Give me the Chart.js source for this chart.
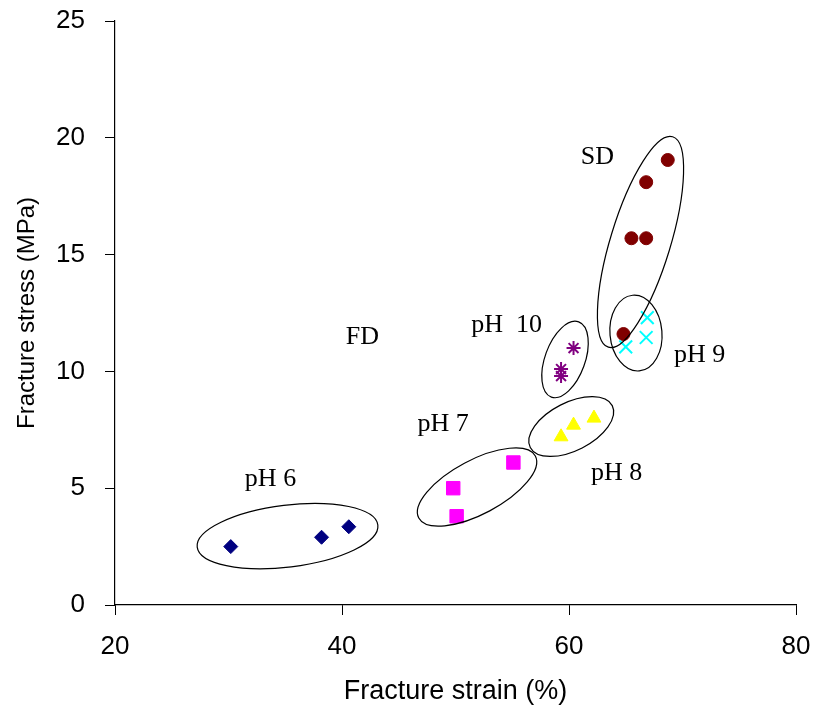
<!DOCTYPE html>
<html>
<head>
<meta charset="utf-8">
<script src="https://cdn.jsdelivr.net/npm/chart.js@4/dist/chart.umd.min.js"></script>
<style>
  html, body { margin: 0; padding: 0; background: #fff; }
  #wrap { width: 818px; height: 711px; }
</style>
</head>
<body>
<div id="wrap"><canvas id="c" width="818" height="711"></canvas></div>
<script>
// Fracture strain (%) and fracture stress (MPa) per treatment group
const ph6Strain = [30.2, 38.2, 40.6];
const ph6Stress = [2.5, 2.9, 3.35];
const ph7Strain = [49.8, 50.1, 55.1];
const ph7Stress = [5.0, 3.8, 6.1];
const ph8Strain = [59.3, 60.4, 62.2];
const ph8Stress = [7.2, 7.7, 8.0];
const ph9Strain = [65.0, 66.8, 66.9];
const ph9Stress = [11.05, 11.45, 12.3];
const ph10Strain = [59.3, 59.3, 60.4];
const ph10Stress = [9.8, 10.1, 11.0];
const sdStrain = [64.8, 65.5, 66.8, 66.8, 68.7];
const sdStress = [11.6, 15.7, 15.7, 18.1, 19.05];

const xTicks = [20, 40, 60, 80];
const yTicks = [0, 5, 10, 15, 20, 25];

// Group names written on the plot, anchored in data units
const groupNames = ['pH 6', 'pH 7', 'pH 8', 'pH 9', 'pH  10', 'SD', 'FD'];
const nameStrain = [33.7, 48.9, 64.2, 71.5, 54.5, 62.5, 41.8];
const nameStress = [5.4, 7.75, 5.65, 10.7, 12.0, 19.15, 11.45];

// Outline ellipses around each group: centre in data units, semi-axes in px, tilt in degrees
const outlines = [
  { cx: 35.2, cy: 2.95, a: 91, b: 31, tilt: -7 },
  { cx: 51.9, cy: 5.05, a: 66, b: 27, tilt: -28 },
  { cx: 60.2, cy: 7.64, a: 46, b: 24, tilt: -27 },
  { cx: 65.9, cy: 11.64, a: 38, b: 26, tilt: -95 },
  { cx: 59.65, cy: 10.51, a: 40, b: 20, tilt: -70 },
  { cx: 66.3, cy: 15.54, a: 110, b: 30, tilt: -73 }
];

const pairs = (xs, ys) => xs.map((x, i) => ({ x: x, y: ys[i] }));

const annotate = {
  id: 'groupAnnotations',
  afterDatasetsDraw(chart) {
    const ctx = chart.ctx;
    const xs = chart.scales.x, ys = chart.scales.y;
    ctx.save();
    ctx.strokeStyle = '#000';
    ctx.lineWidth = 1.2;
    outlines.forEach(o => {
      ctx.beginPath();
      ctx.ellipse(xs.getPixelForValue(o.cx), ys.getPixelForValue(o.cy), o.a, o.b, o.tilt * Math.PI / 180, 0, Math.PI * 2);
      ctx.stroke();
    });
    ctx.fillStyle = '#000';
    ctx.font = '26px "Liberation Serif", "DejaVu Serif", serif';
    ctx.textAlign = 'center';
    ctx.textBaseline = 'middle';
    groupNames.forEach((t, i) => {
      ctx.fillText(t, xs.getPixelForValue(nameStrain[i]), ys.getPixelForValue(nameStress[i]));
    });
    ctx.restore();
  }
};

const mk = (label, data, color, style, radius, bw) => ({
  label: label,
  data: data,
  showLine: false,
  pointStyle: style,
  pointRadius: radius,
  pointHoverRadius: radius,
  pointBackgroundColor: color,
  pointBorderColor: color,
  pointBorderWidth: bw,
  backgroundColor: color,
  borderColor: color
});

const noEdgePadding = s => { s.paddingLeft = 0; s.paddingRight = 0; s.paddingTop = 0; s.paddingBottom = 0; };

new Chart(document.getElementById('c'), {
  type: 'scatter',
  data: {
    datasets: [
      mk('pH 6', pairs(ph6Strain, ph6Stress), '#000080', 'rectRot', 7, 1),
      mk('pH 7', pairs(ph7Strain, ph7Stress), '#FF00FF', 'rect', 9.5, 1),
      mk('pH 8', pairs(ph8Strain, ph8Stress), '#FFFF00', 'triangle', 8, 1),
      mk('pH 9', pairs(ph9Strain, ph9Stress), '#00FFFF', 'crossRot', 9, 2),
      mk('pH 10', pairs(ph10Strain, ph10Stress), '#800080', 'star', 7, 2),
      mk('SD', pairs(sdStrain, sdStress), '#800000', 'circle', 6.5, 1)
    ]
  },
  options: {
    responsive: false,
    animation: false,
    layout: { padding: { top: 21, right: 22, left: 0, bottom: 0 } },
    plugins: { legend: { display: false }, tooltip: { enabled: false } },
    scales: {
      x: {
        type: 'linear',
        min: 20, max: 80,
        afterBuildTicks: s => { s.ticks = xTicks.map(v => ({ value: v })); },
        afterFit: s => { s.height = 106; noEdgePadding(s); },
        grid: { drawOnChartArea: false, drawTicks: true, tickLength: 10, color: '#000', lineWidth: 1 },
        border: { color: '#000', width: 1.2 },
        ticks: { color: '#000', padding: 16, maxRotation: 0, font: { family: '"Liberation Sans", Arial, sans-serif', size: 26 } },
        title: { display: true, text: 'Fracture strain (%)', color: '#000', padding: { top: 0, bottom: 3 }, font: { family: '"Liberation Sans", Arial, sans-serif', size: 27 } }
      },
      y: {
        type: 'linear',
        min: 0, max: 25,
        afterBuildTicks: s => { s.ticks = yTicks.map(v => ({ value: v })); },
        afterFit: s => { s.width = 115; noEdgePadding(s); },
        grid: { drawOnChartArea: false, drawTicks: true, tickLength: 10, color: '#000', lineWidth: 1 },
        border: { color: '#000', width: 1.2 },
        ticks: { color: '#000', padding: 20, font: { family: '"Liberation Sans", Arial, sans-serif', size: 26 } },
        title: { display: true, text: 'Fracture stress (MPa)', color: '#000', padding: { top: 13, bottom: 0 }, font: { family: '"Liberation Sans", Arial, sans-serif', size: 24 } }
      }
    }
  },
  plugins: [annotate]
});
</script>
</body>
</html>
